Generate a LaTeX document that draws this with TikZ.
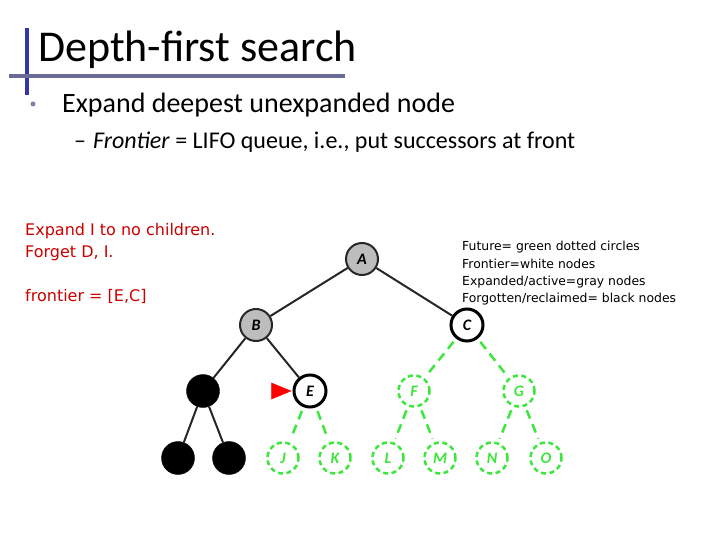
\documentclass[tikz,border=0pt]{standalone}
\usepackage{fontspec}
\setmainfont{Carlito}
\newfontfamily\notefont{DejaVu Sans}
\usepackage{tikz}
\usetikzlibrary{shapes.geometric, positioning, calc}
\definecolor{titleBar}{HTML}{3535A5}
\definecolor{titleRule}{HTML}{6A6A96}
\definecolor{bulletColor}{HTML}{7A86A8}
\definecolor{futureGreen}{HTML}{3DE63D}
\definecolor{noteRed}{HTML}{CC0000}
\definecolor{expandedGray}{HTML}{BDBDBD}

\begin{document}
\begin{tikzpicture}[x=1pt, y=-1pt, >=latex,
    expanded/.style={circle, draw=black!85, line width=2pt, fill=expandedGray, minimum size=32pt, inner sep=0pt, font=\fontsize{16}{17}\selectfont\itshape\bfseries},
    frontier/.style={circle, draw=black, line width=3pt, fill=white, minimum size=32pt, inner sep=0pt, font=\fontsize{16}{17}\selectfont\itshape\bfseries},
    forgotten/.style={circle, draw=black, fill=black, minimum size=33pt, inner sep=0pt},
    future/.style={circle, draw=futureGreen, dash pattern=on 5pt off 3.5pt, line width=2.5pt, text=futureGreen, minimum size=31pt, inner sep=0pt, font=\fontsize{16}{17}\selectfont\itshape\bfseries},
    treeEdge/.style={draw=black!85, line width=2pt},
    futureEdge/.style={draw=futureGreen, line width=2.5pt, dash pattern=on 9pt off 6pt, shorten <=4pt, shorten >=4pt},
    note/.style={anchor=base west, text=noteRed, font=\notefont\fontsize{16}{19}\selectfont},
    legend/.style={anchor=base west, font=\notefont\fontsize{12.4}{15}\selectfont}]
    \useasboundingbox (0,0) rectangle (720,540);

    % Title and bullets
    \draw[titleBar, line width=3.5pt] (27,28) -- (27,95);
    \draw[titleRule, line width=3.5pt] (9,76) -- (345,76);
    \node[anchor=base west, inner sep=0pt, font=\fontsize{44}{50}\selectfont] (title) at (38,62) {Depth-first search};
    \node[circle, fill=bulletColor, minimum size=5pt, inner sep=0pt] (dot) at (33,104) {};
    \node[anchor=base west, inner sep=0pt, font=\fontsize{28}{32}\selectfont] (bulletA) at (62,113) {Expand deepest unexpanded node};
    \node[anchor=base west, inner sep=0pt, font=\fontsize{24}{28}\selectfont] (dashB) at (74,149) {–};
    \node[anchor=base west, inner sep=0pt, font=\fontsize{24}{28}\selectfont] (bulletB) at (93,149) {\textit{Frontier} = LIFO queue, i.e., put successors at front};

    % Notes
    \node[note, inner sep=0pt] (noteA) at (25,236) {Expand I to no children.};
    \node[note, inner sep=0pt] (noteB) at (25,257) {Forget D, I.};
    \node[note, inner sep=0pt] (noteC) at (25,301) {frontier = [E,C]};

    \node[legend, inner sep=0pt] (legA) at (462,251) {Future= green dotted circles};
    \node[legend, inner sep=0pt] (legB) at (462,268) {Frontier=white nodes};
    \node[legend, inner sep=0pt] (legC) at (462,285) {Expanded/active=gray nodes};
    \node[legend, inner sep=0pt] (legD) at (462,302) {Forgotten/reclaimed= black nodes};

    % Tree nodes
    \node[expanded] (A) at (362,259) {A};
    \node[expanded] (B) at (256,325) {B};
    \node[frontier] (C) at (467,325) {C};
    \node[forgotten] (D) at (203,391) {};
    \node[frontier] (E) at (310,391) {E};
    \node[future] (F) at (414,391) {F};
    \node[future] (G) at (519,391) {G};
    \node[forgotten] (H) at (178,458) {};
    \node[forgotten] (I) at (229,458) {};
    \node[future] (J) at (283,458) {J};
    \node[future] (K) at (335,458) {K};
    \node[future] (L) at (388,458) {L};
    \node[future] (M) at (440,458) {M};
    \node[future] (N) at (492,458) {N};
    \node[future] (O) at (546,458) {O};

    % Current node marker
    \node[isosceles triangle, fill=red, draw=red, minimum height=13pt, minimum width=16pt, inner sep=0pt, left=1pt of E] (mark) {};

    % Edges
    \draw[treeEdge] (A) -- (B);
    \draw[treeEdge] (A) -- (C);
    \draw[treeEdge] (B) -- (D);
    \draw[treeEdge] (B) -- (E);
    \draw[treeEdge] (D) -- (H);
    \draw[treeEdge] (D) -- (I);
    \foreach \p/\c in {C/F, C/G, E/J, E/K, F/L, F/M, G/N, G/O}
        \draw[futureEdge] (\p) -- (\c);
\end{tikzpicture}
\end{document}
